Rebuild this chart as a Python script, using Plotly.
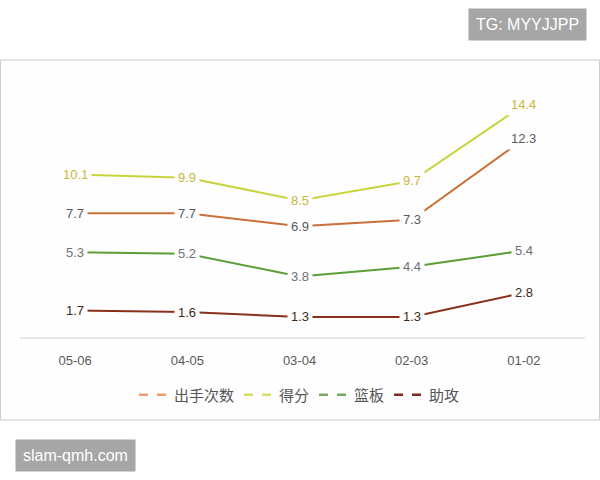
import plotly.graph_objects as go

seasons = ["05-06", "04-05", "03-04", "02-03", "01-02"]
shots = [7.7, 7.7, 6.9, 7.3, 12.3]      # 出手次数
points = [10.1, 9.9, 8.5, 9.7, 14.4]    # 得分
rebounds = [5.3, 5.2, 3.8, 4.4, 5.4]    # 篮板
assists = [1.7, 1.6, 1.3, 1.3, 2.8]     # 助攻
names = ["出手次数", "得分", "篮板", "助攻"]

series = [shots, points, rebounds, assists]
line_colors = ["#c9703a", "#c8d43c", "#5a9e35", "#8a2f1c"]
legend_colors = ["#e8a070", "#d8dc60", "#78a860", "#7a2a1e"]
label_colors = ["#5a5a5a", "#c8b83a", "#707070", "#3a2a22"]

W, H = 600, 480
L, R, T, B = 19, 20, 79, 142
pw, ph = W - L - R, H - T - B

def px(x):
    return (x - L) / pw

def py(y):
    return (H - B - y) / ph

fig = go.Figure()
for vals, nm, c in zip(series, names, line_colors):
    fig.add_trace(go.Scatter(x=seasons, y=vals, mode="lines", name=nm,
                             line=dict(color=c, width=2), showlegend=False,
                             hoverinfo="skip"))
for nm, c in zip(names, legend_colors):
    fig.add_trace(go.Scatter(x=[None], y=[None], mode="lines", name=nm,
                             line=dict(color=c, width=2.5, dash="dash")))

ann = []
for vals, c in zip(series, label_colors):
    for s, v in zip(seasons, vals):
        ann.append(dict(x=s, y=v, xref="x", yref="y", text=f"{v}",
                        showarrow=False, bgcolor="#fefefe", borderpad=3,
                        font=dict(size=13, color=c, family="Liberation Sans")))

ann.append(dict(x=px(527), y=py(25), xref="paper", yref="paper",
                xanchor="center", yanchor="middle",
                text="TG: MYYJJPP", showarrow=False, bgcolor="#a6a6a6",
                borderpad=7, font=dict(size=16, color="white", family="Liberation Sans")))
ann.append(dict(x=px(75), y=py(455), xref="paper", yref="paper",
                xanchor="center", yanchor="middle",
                text="slam-qmh.com", showarrow=False, bgcolor="#a6a6a6",
                borderpad=7, font=dict(size=16, color="white", family="Liberation Sans")))

shapes = [
    dict(type="rect", xref="paper", yref="paper", x0=px(0.5), x1=px(599.5),
         y0=py(420), y1=py(60), line=dict(color="#cccccc", width=1),
         fillcolor="#fefefe", layer="below"),
    dict(type="line", xref="paper", yref="paper", x0=px(20), x1=px(585),
         y0=py(338), y1=py(338), line=dict(color="#dcdcdc", width=1.5),
         layer="below"),
]

fig.update_layout(
    width=W, height=H,
    margin=dict(l=L, r=R, t=T, b=B),
    paper_bgcolor="white", plot_bgcolor="rgba(0,0,0,0)",
    showlegend=True,
    legend=dict(orientation="h", x=0.5, xanchor="center", y=py(395),
                yanchor="middle", font=dict(size=15, color="#555555",
                family="Noto Sans CJK SC"), itemwidth=30,
                bgcolor="rgba(0,0,0,0)", tracegroupgap=0),
    xaxis=dict(type="category", range=[-0.5, 4.5], showgrid=False,
               zeroline=False, showline=False, ticks="outside", ticklen=10,
               tickcolor="rgba(0,0,0,0)",
               tickfont=dict(size=13, color="#595959", family="Liberation Sans")),
    yaxis=dict(range=[0, 16], visible=False, showgrid=False),
    annotations=ann, shapes=shapes,
)

fig.write_html("out.html")
